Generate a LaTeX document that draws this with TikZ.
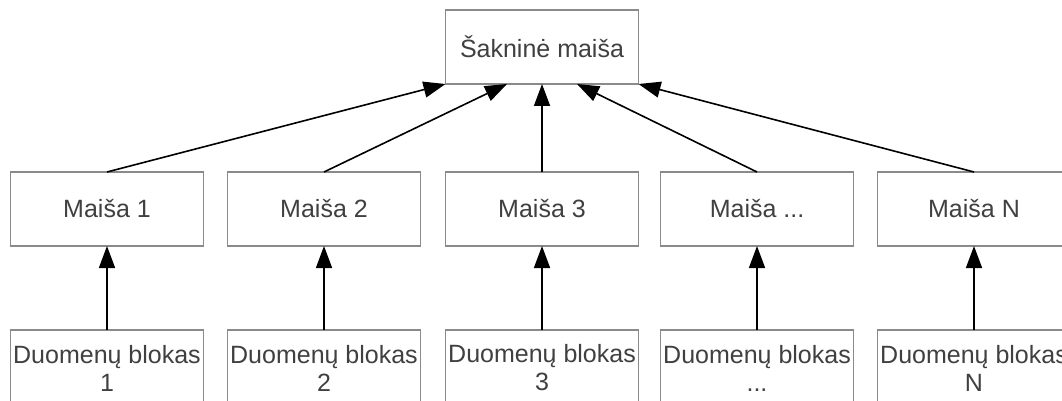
\documentclass[tikz,border=0pt]{standalone}
\usepackage{fontspec}
\setmainfont{Liberation Sans}
\usetikzlibrary{arrows.meta}
\definecolor{boxline}{HTML}{8A8A8A}
\definecolor{boxtext}{HTML}{404040}
\begin{document}
\begin{tikzpicture}[x=1pt,y=-1pt,
  box/.style={draw=boxline, line width=1.2pt, fill=white, rectangle,
    minimum width=193pt, minimum height=74pt, inner sep=0pt, outer sep=0pt,
    text=boxtext, align=center, font=\fontsize{25}{28}\selectfont},
  link/.style={draw=black, line width=1.6pt,
    -{Triangle[length=22pt, width=16pt]}}]
  \useasboundingbox (0,0) rectangle (1062,401);
  \clip (0,0) rectangle (1062,401);

  % root
  \node[box, anchor=north] (root) at (542,10) {Šakninė maiša};

  % middle row
  \node[box, anchor=north] (m1) at (107,172) {Maiša 1};
  \node[box, anchor=north] (m2) at (324,172) {Maiša 2};
  \node[box, anchor=north] (m3) at (542,172) {Maiša 3};
  \node[box, anchor=north] (m4) at (757,172) {Maiša ...};
  \node[box, anchor=north] (m5) at (974,172) {Maiša N};

  % data blocks
  \node[box, anchor=north, minimum height=76pt] (d1) at (107,330) {Duomenų blokas\\1};
  \node[box, anchor=north, minimum height=76pt] (d2) at (324,330) {Duomenų blokas\\2};
  \node[box, anchor=north, minimum height=76pt] (d3) at (542,330) {Duomenų blokas\\3};
  \node[box, anchor=north, minimum height=76pt] (d4) at (757,330) {Duomenų blokas\\...};
  \node[box, anchor=north, minimum height=76pt] (d5) at (974,330) {Duomenų blokas\\N};

  % connectors up to the root
  \draw[link] (m1.north) -- (root.south west);
  \draw[link] (m2.north) -- ([xshift=-35pt]root.south);
  \draw[link] (m3.north) -- (root.south);
  \draw[link] (m4.north) -- ([xshift=35pt]root.south);
  \draw[link] (m5.north) -- (root.south east);

  % connectors from data blocks
  \draw[link] (d1.north) -- (m1.south);
  \draw[link] (d2.north) -- (m2.south);
  \draw[link] (d3.north) -- (m3.south);
  \draw[link] (d4.north) -- (m4.south);
  \draw[link] (d5.north) -- (m5.south);
\end{tikzpicture}
\end{document}
